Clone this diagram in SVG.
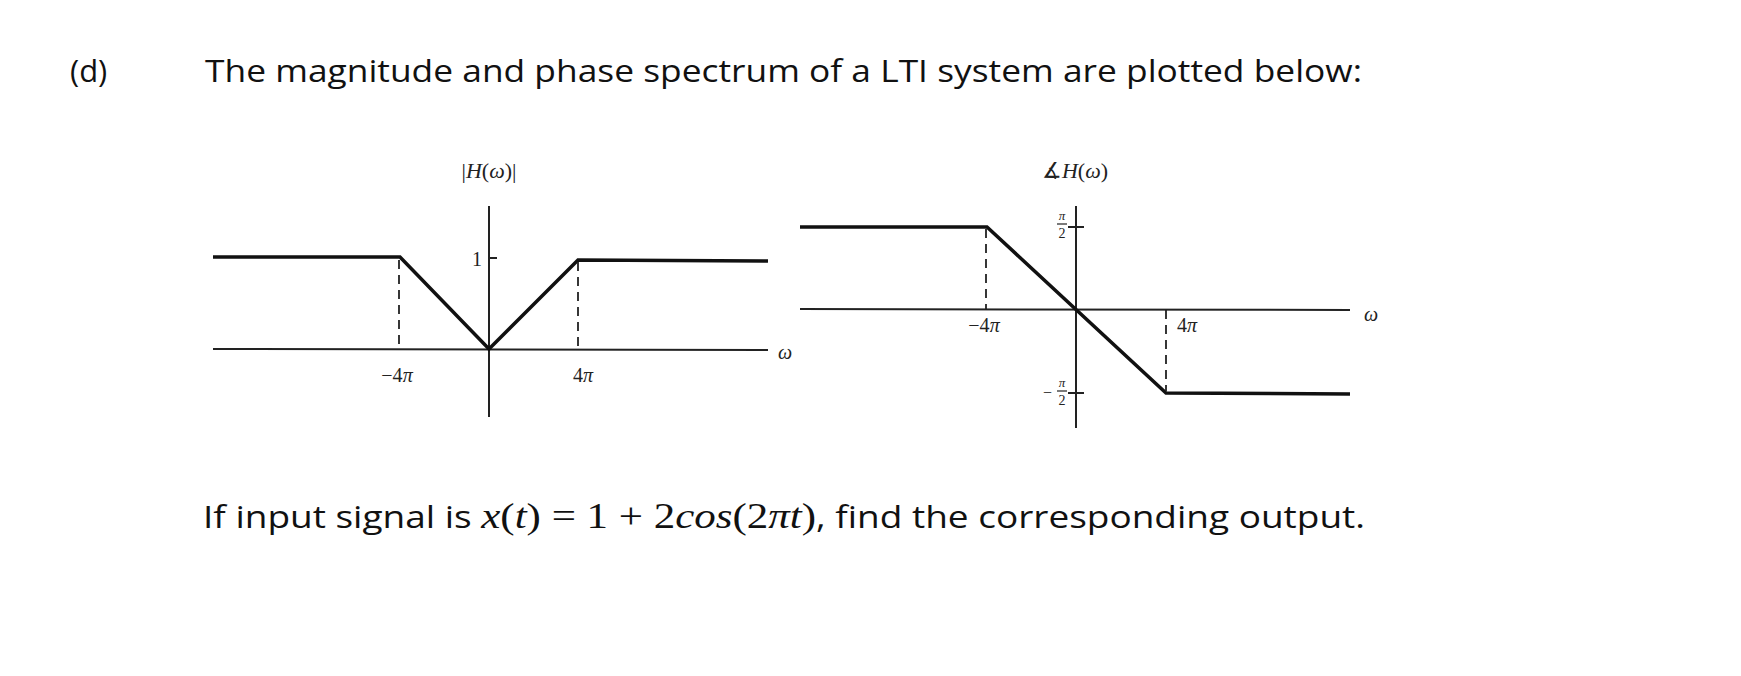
<svg xmlns="http://www.w3.org/2000/svg" width="1741" height="676" viewBox="0 0 1741 676">
<style>
.t{font-family:"Open Sans","Liberation Sans",sans-serif;font-size:31px;fill:#111}
.mm{font-family:"Liberation Serif",serif;font-size:36px}
.m{font-family:"Liberation Serif",serif;font-style:italic;fill:#222}
.s{font-family:"Liberation Serif",serif;fill:#222}
.ax{stroke:#222;stroke-width:2;fill:none}
.cv{stroke:#111;stroke-width:3.5;fill:none;stroke-linejoin:miter}
.d{stroke:#222;stroke-width:1.8;stroke-dasharray:9,6;fill:none}
</style>
<rect width="1741" height="676" fill="#fff"/>
<text class="t" x="70" y="82">(d)</text>
<text class="t" x="205" y="82" textLength="1157" lengthAdjust="spacingAndGlyphs">The magnitude and phase spectrum of a LTI system are plotted below:</text>
<g id="magnitude">
<line class="ax" x1="213" y1="349" x2="768" y2="350"/>
<line class="ax" x1="489" y1="206" x2="489" y2="417"/>
<line class="ax" x1="489" y1="258" x2="497" y2="258"/>
<polyline class="cv" points="213,257 400,257 489,349 578,260 768,261"/>
<line class="d" x1="399" y1="260" x2="399" y2="349"/>
<line class="d" x1="578" y1="262" x2="578" y2="349"/>
<text class="s" x="489" y="178" font-size="22" text-anchor="middle">|<tspan font-style="italic">H</tspan>(<tspan font-style="italic">ω</tspan>)|</text>
<text class="s" x="482" y="266" font-size="20" text-anchor="end">1</text>
<text class="s" x="397" y="382" font-size="20" text-anchor="middle">−4<tspan font-style="italic">π</tspan></text>
<text class="s" x="583" y="382" font-size="20" text-anchor="middle">4<tspan font-style="italic">π</tspan></text>
<text class="m" x="778" y="359" font-size="20">ω</text>
</g>
<g id="phase">
<line class="ax" x1="800" y1="309" x2="1350" y2="310"/>
<line class="ax" x1="1076" y1="206" x2="1076" y2="428"/>
<line class="ax" x1="1068" y1="227" x2="1084" y2="227"/>
<line class="ax" x1="1068" y1="393" x2="1084" y2="393"/>
<polyline class="cv" points="800,227 987,227 1166,393 1350,394"/>
<line class="d" x1="986" y1="229" x2="986" y2="309"/>
<line class="d" x1="1166" y1="310" x2="1166" y2="391"/>
<text class="s" x="1075" y="178" font-size="22" text-anchor="middle">∡<tspan font-style="italic">H</tspan>(<tspan font-style="italic">ω</tspan>)</text>
<text class="m" x="1062" y="220" font-size="13" text-anchor="middle">π</text>
<line x1="1057" y1="224" x2="1067" y2="224" stroke="#222" stroke-width="1.2"/>
<text class="s" x="1062" y="238" font-size="14" text-anchor="middle">2</text>
<text class="s" x="1043" y="398" font-size="16">−</text>
<text class="m" x="1062" y="387" font-size="13" text-anchor="middle">π</text>
<line x1="1057" y1="391" x2="1067" y2="391" stroke="#222" stroke-width="1.2"/>
<text class="s" x="1062" y="405" font-size="14" text-anchor="middle">2</text>
<text class="s" x="984" y="332" font-size="20" text-anchor="middle">−4<tspan font-style="italic">π</tspan></text>
<text class="s" x="1187" y="332" font-size="20" text-anchor="middle">4<tspan font-style="italic">π</tspan></text>
<text class="m" x="1364" y="321" font-size="20">ω</text>
</g>
<text class="t" x="203" y="528" textLength="1162" lengthAdjust="spacingAndGlyphs">If input signal is <tspan class="mm" font-style="italic">x</tspan><tspan class="mm">(</tspan><tspan class="mm" font-style="italic">t</tspan><tspan class="mm">) = 1 + 2</tspan><tspan class="mm" font-style="italic">cos</tspan><tspan class="mm">(2</tspan><tspan class="mm" font-style="italic">πt</tspan><tspan class="mm">)</tspan>, find the corresponding output.</text>
</svg>
